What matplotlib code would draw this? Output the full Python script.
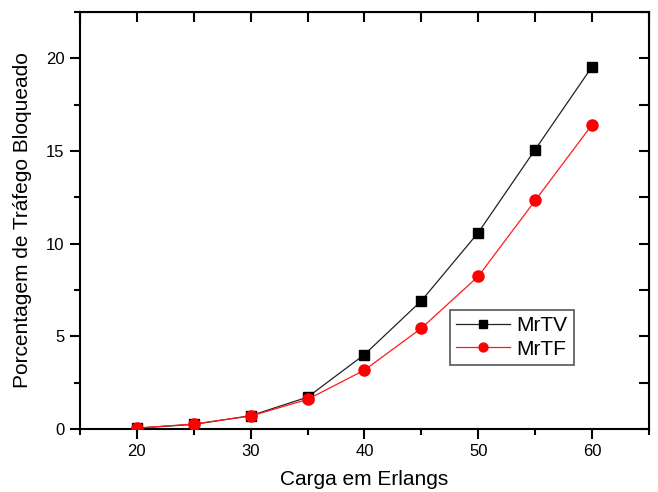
import matplotlib
matplotlib.use("Agg")

import matplotlib.pyplot as plt
from matplotlib.ticker import MultipleLocator

# carga (erlangs) and blocked traffic for the two schemes
carga = [20, 25, 30, 35, 40, 45, 50, 55, 60]
mrtv = [0.05, 0.25, 0.72, 1.72, 4.02, 6.92, 10.6, 15.08, 19.55]
mrtf = [0.05, 0.27, 0.70, 1.60, 3.18, 5.44, 8.24, 12.33, 16.42]

plt.rcParams["font.family"] = ["Liberation Sans", "DejaVu Sans"]

fig = plt.figure(figsize=(6.58, 4.92), dpi=100)
ax = fig.add_axes([0.1216, 0.128, 0.8647, 0.8476])

ax.plot(carga, mrtv, color="#222222", lw=0.9, marker="s", ms=7,
        mfc="black", mec="black", label="MrTV", zorder=3)
ax.plot(carga, mrtf, color="#ff1a1a", lw=0.9, marker="o", ms=8,
        mfc="#ff0000", mec="#ff0000", label="MrTF", zorder=4)

ax.set_xlim(15, 65)
ax.set_ylim(0, 22.5)
ax.xaxis.set_major_locator(MultipleLocator(10))
ax.xaxis.set_minor_locator(MultipleLocator(5))
ax.yaxis.set_major_locator(MultipleLocator(5))
ax.yaxis.set_minor_locator(MultipleLocator(2.5))

for s in ax.spines.values():
    s.set_linewidth(1.5)

ax.tick_params(which="major", direction="out", length=7, width=1.5,
               labelsize=12, pad=4)
ax.tick_params(which="minor", direction="out", length=4, width=1.5)

# mirrored ticks on top/right pointing inward
top = ax.secondary_xaxis("top")
top.xaxis.set_major_locator(MultipleLocator(5))
top.tick_params(direction="in", length=7, width=1.5, labeltop=False)
right = ax.secondary_yaxis("right")
right.yaxis.set_major_locator(MultipleLocator(2.5))
right.tick_params(direction="in", length=7, width=1.5, labelright=False)

ax.set_xlabel("Carga em Erlangs", fontsize=15, labelpad=8)
ax.set_ylabel("Porcentagem de Tráfego Bloqueado", fontsize=15, labelpad=10)

leg = ax.legend(loc="upper left", bbox_to_anchor=(0.65, 0.285), fontsize=15,
                fancybox=False, edgecolor="#555555", framealpha=1,
                handlelength=2.6, borderpad=0.3, labelspacing=0.2,
                handletextpad=0.3, borderaxespad=0, markerscale=0.8)
leg.get_frame().set_linewidth(1.2)

fig.savefig("out.png", dpi=100)
